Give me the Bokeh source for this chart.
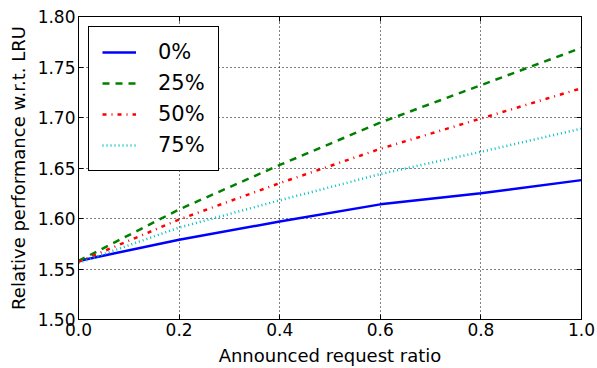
from bokeh.plotting import figure
from bokeh.models import (LinearAxis, FixedTicker, NumeralTickFormatter, Range1d, Legend, LegendItem)
from bokeh.embed import file_html
from bokeh.resources import INLINE

x = [0.0, 0.2, 0.4, 0.6, 0.8, 1.0]
s0 = [1.558, 1.579, 1.597, 1.614, 1.625, 1.638]
s25 = [1.558, 1.609, 1.653, 1.695, 1.732, 1.769]
s50 = [1.557, 1.599, 1.635, 1.669, 1.699, 1.729]
s75 = [1.556, 1.591, 1.618, 1.644, 1.666, 1.689]
labels = ["0%", "25%", "50%", "75%"]
xticks = [0.0, 0.2, 0.4, 0.6, 0.8, 1.0]
yticks = [1.50, 1.55, 1.60, 1.65, 1.70, 1.75, 1.80]

FONT = "DejaVu Sans"

p = figure(width=597, height=368, output_backend="svg", toolbar_location=None,
           x_range=Range1d(0, 1), y_range=Range1d(1.5, 1.8),
           min_border_left=78, min_border_right=16, min_border_top=16, min_border_bottom=49)
p.outline_line_color = "black"
p.outline_line_width = 1
p.outline_line_alpha = 1

for ax in [p.xaxis[0], p.yaxis[0]]:
    ax.axis_line_color = "black"
    ax.major_tick_in = 5
    ax.major_tick_out = 0
    ax.minor_tick_line_color = None
    ax.major_label_text_font = FONT
    ax.major_label_text_font_size = "17px"
    ax.major_label_text_color = "black"
    ax.axis_label_text_font = FONT
    ax.axis_label_text_font_size = "18px"
    ax.axis_label_text_font_style = "normal"
    ax.axis_label_text_color = "black"

p.xaxis[0].ticker = FixedTicker(ticks=xticks)
p.yaxis[0].ticker = FixedTicker(ticks=yticks)
p.xaxis[0].formatter = NumeralTickFormatter(format="0.0")
p.yaxis[0].formatter = NumeralTickFormatter(format="0.00")
p.xaxis[0].axis_label = "Announced request ratio"
p.yaxis[0].axis_label = "Relative performance w.r.t. LRU"
p.xaxis[0].major_label_standoff = 3
p.yaxis[0].major_label_standoff = 3
p.xaxis[0].axis_label_standoff = 6
p.yaxis[0].axis_label_standoff = 6

top = LinearAxis(ticker=FixedTicker(ticks=xticks), major_tick_in=5, major_tick_out=0,
                 minor_tick_line_color=None, major_label_text_color=None,
                 axis_line_color="black", major_label_standoff=0)
right = LinearAxis(ticker=FixedTicker(ticks=yticks), major_tick_in=5, major_tick_out=0,
                   minor_tick_line_color=None, major_label_text_color=None,
                   axis_line_color="black", major_label_standoff=0)
p.add_layout(top, "above")
p.add_layout(right, "right")

p.xgrid.ticker = FixedTicker(ticks=xticks)
p.ygrid.ticker = FixedTicker(ticks=yticks)
for g in [p.xgrid[0], p.ygrid[0]]:
    g.grid_line_color = "black"
    g.grid_line_dash = "1 3"
    g.grid_line_width = 1
    g.grid_line_alpha = 1

r0 = p.line(x, s0, line_color="#0000ff", line_width=2.5)
r1 = p.line(x, s25, line_color="#008000", line_width=2.5, line_dash="7 6")
r2 = p.line(x, s50, line_color="#ff0000", line_width=2.5, line_dash="4 5 1 5")
r3 = p.line(x, s75, line_color="#00bfbf", line_width=2.5, line_dash="1 3")

legend = Legend(items=[LegendItem(label=labels[i], renderers=[r]) for i, r in enumerate([r0, r1, r2, r3])],
                location="top_left")
legend.label_text_font = FONT
legend.label_text_font_size = "21px"
legend.label_text_color = "black"
legend.border_line_color = "black"
legend.border_line_width = 1.5
legend.border_line_alpha = 1
legend.background_fill_alpha = 1
legend.glyph_width = 34
legend.glyph_height = 24
legend.label_height = 24
legend.label_standoff = 22
legend.padding = 13
legend.spacing = 7
legend.margin = 10
p.add_layout(legend, "center")

open("out.html", "w").write(file_html(p, INLINE))
